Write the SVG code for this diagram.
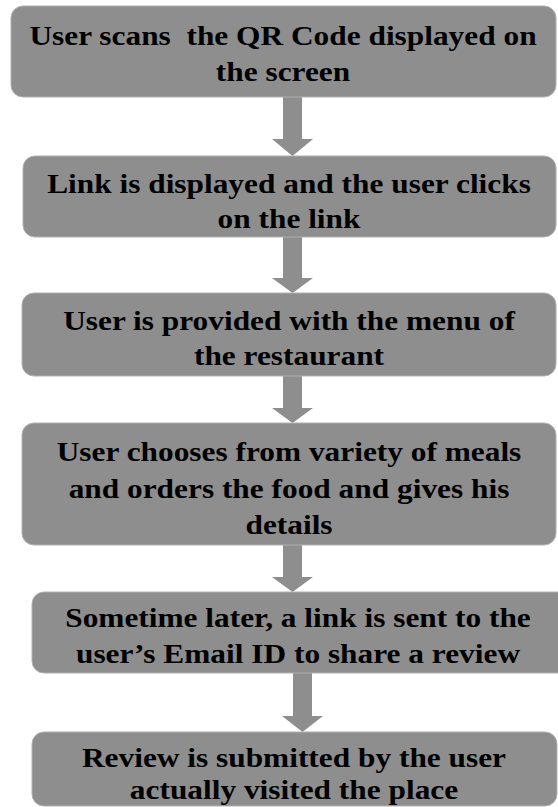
<svg xmlns="http://www.w3.org/2000/svg" width="558" height="807" viewBox="0 0 558 807">
<style>
.box{fill:#8e8e8e;stroke:#b0b0b0;stroke-width:1}
.arr{fill:#8e8e8e}
text{font-family:"Liberation Serif","Times New Roman",serif;font-weight:bold;font-size:28px;fill:#000;text-anchor:middle}
</style>
<rect width="558" height="807" fill="#fff"/>
<g id="connectors">
<polygon class="arr" points="283,97 302,97 302,139 313,139 292.5,156 272,139 283,139"/>
<polygon class="arr" points="283,237 302,237 302,278 313,278 292.5,293 272,278 283,278"/>
<polygon class="arr" points="283,376 302,376 302,408 313,408 292.5,423 272,408 283,408"/>
<polygon class="arr" points="283,545 302,545 302,577 313,577 292.5,592 272,577 283,577"/>
<polygon class="arr" points="293,673 312,673 312,716 323,716 302.5,732 282,716 293,716"/>
</g>
<g id="n1">
<rect class="box" x="11" y="6" width="545" height="91" rx="12"/>
<g transform="translate(283,0) scale(1.12,1)">
<text x="0" y="45" xml:space="preserve">User scans  the QR Code displayed on</text>
<text x="0" y="81">the screen</text>
</g>
</g>
<g id="n2">
<rect class="box" x="23" y="156" width="533" height="81" rx="12"/>
<g transform="translate(289,0) scale(1.12,1)">
<text x="0" y="193">Link is displayed and the user clicks</text>
<text x="0" y="228">on the link</text>
</g>
</g>
<g id="n3">
<rect class="box" x="22" y="293" width="534" height="83" rx="12"/>
<g transform="translate(289,0) scale(1.12,1)">
<text x="0" y="330">User is provided with the menu of</text>
<text x="0" y="365">the restaurant</text>
</g>
</g>
<g id="n4">
<rect class="box" x="22" y="423" width="534" height="122" rx="12"/>
<g transform="translate(289,0) scale(1.12,1)">
<text x="0" y="461">User chooses from variety of meals</text>
<text x="0" y="498">and orders the food and gives his</text>
<text x="0" y="534">details</text>
</g>
</g>
<g id="n5">
<rect class="box" x="32" y="592" width="540" height="81" rx="12"/>
<g transform="translate(298,0) scale(1.12,1)">
<text x="0" y="627">Sometime later, a link is sent to the</text>
<text x="0" y="663">user’s Email ID to share a review</text>
</g>
</g>
<g id="n6">
<rect class="box" x="32" y="732" width="525" height="74" rx="12"/>
<g transform="translate(294,0) scale(1.12,1)">
<text x="0" y="767">Review is submitted by the user</text>
<text x="0" y="799">actually visited the place</text>
</g>
</g>
</svg>
